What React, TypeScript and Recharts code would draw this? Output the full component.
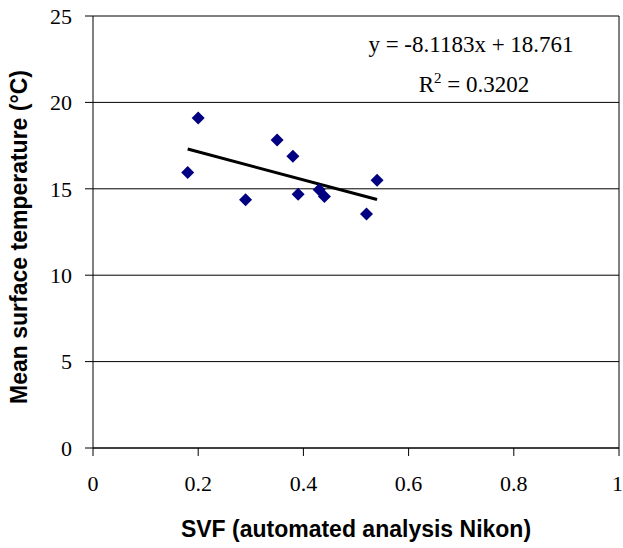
import {
  ScatterChart,
  Scatter,
  XAxis,
  YAxis,
  CartesianGrid,
  ReferenceLine,
  Customized,
} from "recharts";

// SVF vs mean surface temperature
const svf = [0.18, 0.2, 0.29, 0.35, 0.38, 0.39, 0.43, 0.44, 0.52, 0.54];
const temp = [15.94, 19.09, 14.36, 17.82, 16.89, 14.69, 14.94, 14.55, 13.54, 15.5];

// linear trend endpoints (y = -8.1183x + 18.761 over the data range)
const trendX = [0.18, 0.54];
const trendY = [17.3, 14.38];

const xTicks = [0, 0.2, 0.4, 0.6, 0.8, 1];
const yTicks = [0, 5, 10, 15, 20, 25];

const points = svf.map((x, i) => ({ x, y: temp[i] }));
const trend = trendX.map((x, i) => ({ x, y: trendY[i] }));

const serif = "'Liberation Serif', 'Times New Roman', serif";
const sans = "'Liberation Sans', Arial, sans-serif";

const Diamond = (props: any) => {
  const { cx, cy } = props;
  const r = 6.5;
  return (
    <polygon
      points={`${cx},${cy - r} ${cx + r},${cy} ${cx},${cy + r} ${cx - r},${cy}`}
      fill="#000080"
    />
  );
};

const Texts = () => (
  <g>
    <text x={471} y={52} textAnchor="middle" fontFamily={serif} fontSize={23} fill="#000">
      y = -8.1183x + 18.761
    </text>
    <text x={474} y={92} textAnchor="middle" fontFamily={serif} fontSize={23} fill="#000">
      R<tspan dy={-9} fontSize={15}>2</tspan>
      <tspan dy={9}> = 0.3202</tspan>
    </text>
    <text x={356} y={537} textAnchor="middle" fontFamily={sans} fontWeight="bold" fontSize={23} fill="#000">
      SVF (automated analysis Nikon)
    </text>
    <text
      x={27}
      y={237}
      textAnchor="middle"
      transform="rotate(-90 27 237)"
      fontFamily={sans}
      fontWeight="bold"
      fontSize={23}
      fill="#000"
    >
      Mean surface temperature (°C)
    </text>
  </g>
);

export default function App() {
  return (
    <div style={{ position: "absolute", left: 0, top: 0, background: "#fff" }}>
      <ScatterChart
        width={623}
        height={548}
        margin={{ top: 16, right: 4, bottom: 0, left: 0 }}
      >
        <CartesianGrid vertical={false} stroke="#000" strokeWidth={1} />
        <XAxis
          type="number"
          dataKey="x"
          domain={[0, 1]}
          ticks={xTicks}
          height={100}
          stroke="#000"
          tickSize={8}
          tickMargin={19}
          tick={{ fontFamily: serif, fontSize: 22, fill: "#000" }}
        />
        <YAxis
          type="number"
          dataKey="y"
          domain={[0, 25]}
          ticks={yTicks}
          width={93}
          stroke="#000"
          tickSize={8}
          tickMargin={13}
          tick={{ fontFamily: serif, fontSize: 22, fill: "#000" }}
        />
        <ReferenceLine x={1} stroke="#000" />
        <Scatter
          data={trend}
          line={{ stroke: "#000", strokeWidth: 3 }}
          shape={() => <g />}
          isAnimationActive={false}
        />
        <Scatter data={points} shape={Diamond} isAnimationActive={false} />
        <Customized component={Texts} />
      </ScatterChart>
    </div>
  );
}
